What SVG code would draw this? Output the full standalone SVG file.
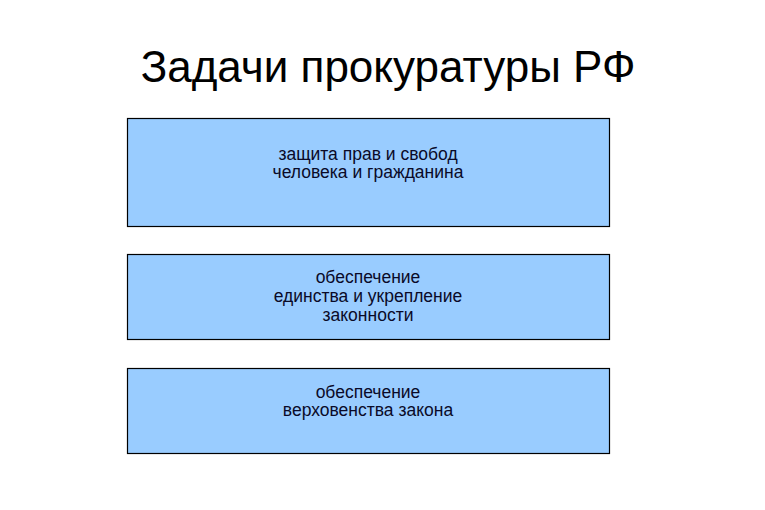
<svg xmlns="http://www.w3.org/2000/svg" width="765" height="510" viewBox="0 0 765 510">
<style>
.box{fill:#99CCFF;stroke:#000;stroke-width:1.2}
.t{font-family:"Liberation Sans",Arial,sans-serif;font-size:17.5px;fill:#0a0a28;text-anchor:middle}
.title{font-family:"Liberation Sans",Arial,sans-serif;font-size:44px;fill:#000;text-anchor:middle}
</style>
<rect width="765" height="510" fill="#fff"/>
<text class="title" x="388" y="82">Задачи прокуратуры РФ</text>
<g id="node1">
<rect class="box" x="127.5" y="118.5" width="482" height="108"/>
<text class="t" x="368" y="159.5">защита прав и свобод</text>
<text class="t" x="368" y="178">человека и гражданина</text>
</g>
<g id="node2">
<rect class="box" x="127.5" y="254.5" width="482" height="85"/>
<text class="t" x="368" y="283">обеспечение</text>
<text class="t" x="368" y="302">единства и укрепление</text>
<text class="t" x="368" y="321">законности</text>
</g>
<g id="node3">
<rect class="box" x="127.5" y="368.5" width="482" height="85"/>
<text class="t" x="368" y="397.5">обеспечение</text>
<text class="t" x="368" y="416">верховенства закона</text>
</g>
<g id="connectors"/>
</svg>
